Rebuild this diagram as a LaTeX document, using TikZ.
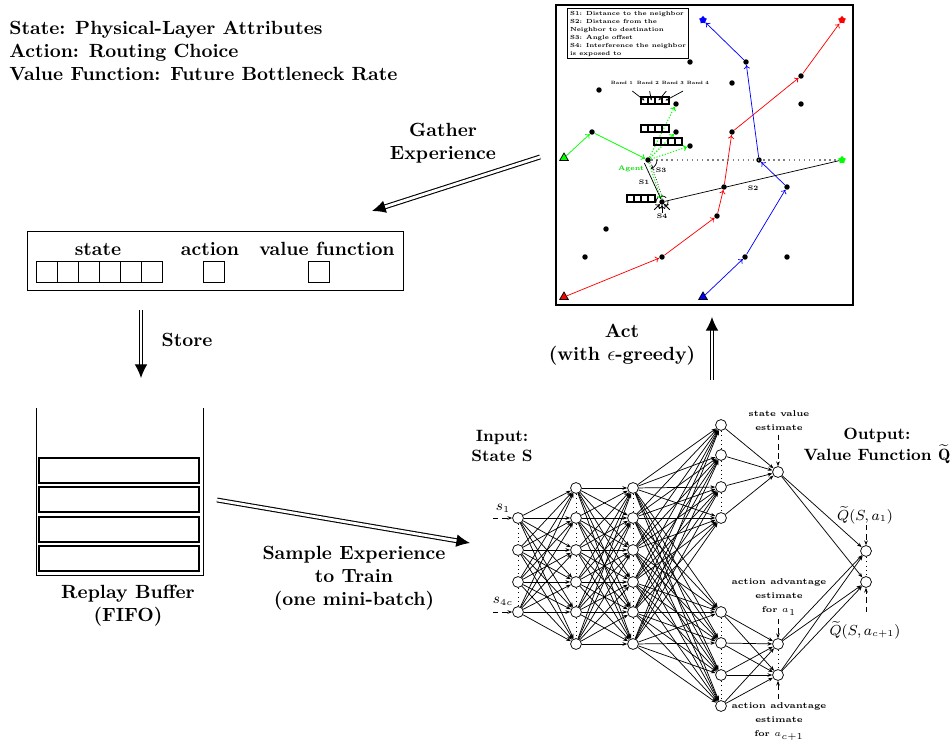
\documentclass[tikz,border=0pt]{standalone}
\usepackage{amsmath,amssymb}
\usepackage{fontspec}
\usetikzlibrary{arrows.meta,shapes.geometric}

\tikzset{
  bigarrow/.style={double, double distance=1.5pt, line width=0.6pt,
    -{Latex[length=7.5pt,width=7pt]}},
  neuron/.style={circle, draw, fill=white, minimum size=6pt, inner sep=0pt},
  wire/.style={-{Stealth[length=2.6pt,width=2pt]}},
  feed/.style={densely dashed, -{Stealth[length=2.6pt,width=2pt]}},
  spot/.style={circle, fill=black, minimum size=3pt, inner sep=0pt},
  hop/.style={-{To[length=2.1pt,width=3.4pt]}},
  tinytext/.style={font=\fontsize{3.25}{4.4}\selectfont\bfseries},
  bandtext/.style={font=\fontsize{2.55}{3}\selectfont\bfseries},
  smalltext/.style={font=\fontsize{3.6}{4.4}\selectfont\bfseries},
  esttext/.style={font=\fontsize{4.65}{7.7}\selectfont\bfseries, align=center},
  mathtext/.style={font=\fontsize{7.6}{9}\selectfont},
  iotext/.style={font=\fontsize{9}{11.5}\selectfont\bfseries, align=center},
  slotline/.style={semithick},
}

\begin{document}
\begin{tikzpicture}[x=0.55pt, y=-0.55pt, font=\fontsize{10.5}{12.6}\selectfont\bfseries]
\useasboundingbox (0,0) rectangle (952,740);

% problem definition
\node[anchor=north west, align=left] (defs) at (3,15)
  {State: Physical-Layer Attributes\\Action: Routing Choice\\Value Function: Future Bottleneck Rate};

% experience tuple
\draw (27,231) rectangle (403,290);
\node (stlbl) at (98,249) {state};
\node (aclbl) at (210,249) {action};
\node (vflbl) at (327,249) {value function};
\foreach \k in {0,...,5}
  \draw (36+21*\k,261) rectangle ++(21,21);
\draw (203,261) rectangle ++(21,21);
\draw (308,261) rectangle ++(21,21);

% replay buffer
\draw (36,408) -- (36,575) -- (203,575) -- (203,408);
\foreach \y in {458,487,517,546}
  \draw[slotline] (39,\y) rectangle (199,\y+25);
\node[align=center] (buflbl) at (128,606) {Replay Buffer\\(FIFO)};

% big arrows
\coordinate (store-a) at (141,310);
\coordinate (store-b) at (141,378);
\draw[bigarrow] (store-a) -- (store-b);
\node (storelbl) at (187,340) {Store};

\coordinate (gather-a) at (540,157);
\coordinate (gather-b) at (372,211);
\draw[bigarrow] (gather-a) -- (gather-b);
\node[align=center] (gatherlbl) at (443,143) {Gather\\Experience};

\coordinate (sample-a) at (217,500);
\coordinate (sample-b) at (470,543);
\draw[bigarrow] (sample-a) -- (sample-b);
\node[align=center] (samplelbl) at (354,578) {Sample Experience\\to Train\\(one mini-batch)};

\coordinate (act-a) at (712,380);
\coordinate (act-b) at (712,317);
\draw[bigarrow] (act-a) -- (act-b);
\node[align=center] (actlbl) at (622,345) {Act\\(with $\epsilon$-greedy)};

% environment
\draw[thick] (556,5) rectangle (853,305);
\node[draw, semithick, tinytext, align=left, anchor=north west, inner sep=1.4pt] (legend) at (567,8)
  {S1: Distance to the neighbor\\S2: Distance from the\\Neighbor to destination\\S3: Angle offset\\S4: Interference the neighbor\\is exposed to};

% nodes of the network
\foreach \n/\x/\y in {d1/690/62, b4/746/62, d2/599/90, d3/732/83, r5/801/76, d4/801/104,
    n1/676/104, n2/676/132, g1/592/132, r4/732/132, n3/690/146, b3/759/160, r3/724/187,
    b2/787/187, r2/717/216, d5/606/229, d6/585/257, r1/662/257, b1/745/257, d7/787/257}
  \node[spot] (\n) at (\x,\y) {};
\node[spot] (agent) at (648,160) {};
\node[spot] (nb) at (662,202) {};

% sources and destinations
\node[regular polygon, regular polygon sides=3, draw, fill=green, inner sep=0pt, minimum size=5.5pt] (gsrc) at (564,158) {};
\node[regular polygon, regular polygon sides=3, draw, fill=red, inner sep=0pt, minimum size=5.5pt] (rsrc) at (564,297) {};
\node[regular polygon, regular polygon sides=3, draw, fill=blue, inner sep=0pt, minimum size=5.5pt] (bsrc) at (703,297) {};
\node[star, star points=5, fill=green, inner sep=0pt, minimum size=4.5pt] (gdst) at (842,160) {};
\node[star, star points=5, fill=red, inner sep=0pt, minimum size=4.5pt] (rdst) at (842,20) {};
\node[star, star points=5, fill=blue, inner sep=0pt, minimum size=4.5pt] (bdst) at (703,20) {};

% routes
\foreach \a/\b in {rsrc/r1, r1/r2, r2/r3, r3/r4, r4/r5, r5/rdst}
  \draw[hop, red] (\a) -- (\b);
\foreach \a/\b in {bsrc/b1, b1/b2, b2/b3, b3/b4, b4/bdst}
  \draw[hop, blue] (\a) -- (\b);
\foreach \a/\b in {gsrc/g1, g1/agent}
  \draw[hop, green] (\a) -- (\b);

% agent and its choices
\draw[gray, dotted, thick] (agent) -- (gdst);
\foreach \b in {n1,n2,n3,nb}
  \draw[hop, green, densely dotted, semithick] (agent) -- (\b);
\draw[densely dotted] ([xshift=1pt]agent.center) -- ([xshift=1pt]nb.center);
\draw ([xshift=-2pt]agent.south) -- ([xshift=-0.6pt]nb.north);
\draw (nb) -- (gdst);
\draw[-{To[length=1.5pt,width=2.5pt]}] (agent.center) ++(9,0) arc (0:70:9);
\draw[densely dashed] (nb) circle (6);
\foreach \a in {45,90,135}
  \draw[hop] (nb.center) ++(\a:11) -- (nb);
\node[text=green!85!black, smalltext] (agentlbl) at (631,169) {Agent};
\node[smalltext] (s1lbl) at (644,182) {S1};
\node[smalltext] (s2lbl) at (753,188) {S2};
\node[smalltext] (s3lbl) at (661,170) {S3};
\node[smalltext] (s4lbl) at (662,216) {S4};

% frequency bands
\foreach \bx/\by in {641/97, 641/125, 654/138, 627/195}
  \foreach \k in {0,...,3}
    \draw[slotline] (\bx+7*\k,\by) rectangle ++(7,7);
\foreach \k/\x in {1/622, 2/648, 3/673, 4/698}{
  \node[bandtext] (band-\k) at (\x,83) {Band \k};
  \coordinate (cell-\k) at (637.5+7*\k,100.5);
  \draw[-{Stealth[length=1.4pt,width=1.2pt]}] (band-\k) -- (cell-\k);
}

% deep network
\foreach \i/\y in {1/518,2/550,3/582,4/612}
  \node[neuron] (in-\i) at (518,\y) {};
\foreach \i/\y in {1/488,2/518,3/550,4/582,5/612,6/644}{
  \node[neuron] (ha-\i) at (576,\y) {};
  \node[neuron] (hb-\i) at (633,\y) {};
}
\foreach \i/\y in {1/425,2/455,3/487,4/518}
  \node[neuron] (va-\i) at (721,\y) {};
\foreach \i/\y in {1/612,2/643,3/675,4/706}
  \node[neuron] (ad-\i) at (721,\y) {};
\node[neuron] (sv) at (778,472) {};
\node[neuron] (aa-1) at (778,644) {};
\node[neuron] (aa-2) at (778,675) {};
\node[neuron] (q-1) at (866,551) {};
\node[neuron] (q-2) at (866,582) {};

% connections
\foreach \i in {1,...,4}
  \foreach \j in {1,...,6}
    \draw[wire] (in-\i) -- (ha-\j);
\foreach \i in {1,...,6}
  \foreach \j in {1,...,6}
    \draw[wire] (ha-\i) -- (hb-\j);
\foreach \i in {1,...,6}
  \foreach \j in {1,...,4}{
    \draw[wire] (hb-\i) -- (va-\j);
    \draw[wire] (hb-\i) -- (ad-\j);
  }
\foreach \i in {1,...,4}{
  \draw[wire] (va-\i) -- (sv);
  \draw[wire] (ad-\i) -- (aa-1);
  \draw[wire] (ad-\i) -- (aa-2);
}
\foreach \j in {1,2}{
  \draw[wire] (sv) -- (q-\j);
  \draw[wire] (aa-1) -- (q-\j);
  \draw[wire] (aa-2) -- (q-\j);
}

% dots inside layers
\foreach \a/\b in {in-1/in-2, in-2/in-3, in-3/in-4,
    ha-1/ha-2, ha-2/ha-3, ha-3/ha-4, ha-4/ha-5, ha-5/ha-6,
    hb-1/hb-2, hb-2/hb-3, hb-3/hb-4, hb-4/hb-5, hb-5/hb-6,
    va-1/va-2, va-2/va-3, va-3/va-4, ad-1/ad-2, ad-2/ad-3, ad-3/ad-4,
    aa-1/aa-2, q-1/q-2}
  \draw[dotted] (\a) -- (\b);

% inputs and outputs
\coordinate (s1-tail) at (493,518);
\coordinate (s4-tail) at (493,612);
\draw[feed] (s1-tail) -- (in-1);
\draw[feed] (s4-tail) -- (in-4);
\node[mathtext] (s1lab) at (503,508) {$s_1$};
\node[mathtext] (s4lab) at (503,601) {$s_{4c}$};

\node[iotext] (inlbl) at (502,446) {Input:\\State S};
\node[iotext] (outlbl) at (877,446) {Output:\\Value Function $\widetilde{\mathbf{Q}}$};

\node[esttext] (svlbl) at (779,421) {state value\\estimate};
\coordinate (sv-tail) at (778,435);
\draw[feed] (sv-tail) -- (sv);

\node[esttext] (a1lbl) at (779,597) {action advantage\\estimate\\for $a_1$};
\coordinate (a1-tail) at (778,619);
\draw[feed] (a1-tail) -- (aa-1);

\node[esttext] (a2lbl) at (779,722) {action advantage\\estimate\\for $a_{c+1}$};
\coordinate (a2-tail) at (778,699);
\draw[feed] (a2-tail) -- (aa-2);

\node[mathtext] (q1lbl) at (865,515) {$\widetilde{Q}(S,a_1)$};
\coordinate (q1-tail) at (866,525);
\draw[feed] (q1-tail) -- (q-1);
\node[mathtext] (q2lbl) at (865,630) {$\widetilde{Q}(S,a_{c+1})$};
\coordinate (q2-tail) at (866,612);
\draw[feed] (q2-tail) -- (q-2);
\end{tikzpicture}
\end{document}
